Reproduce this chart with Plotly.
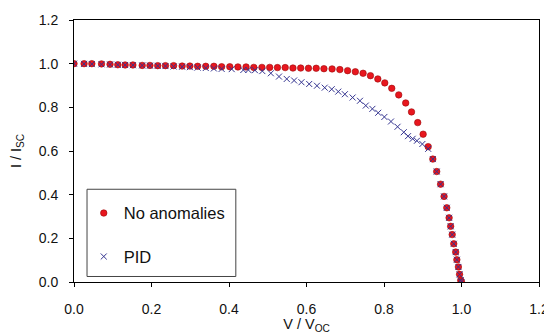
import plotly.graph_objects as go

# No anomalies (red circles)
red_v = [0, 0.026, 0.046, 0.071, 0.093, 0.113, 0.132, 0.152, 0.176, 0.196,
         0.216, 0.236, 0.257, 0.279, 0.299, 0.319, 0.340, 0.361, 0.381, 0.402,
         0.423, 0.444, 0.464, 0.485, 0.505, 0.525, 0.545, 0.565, 0.585, 0.605,
         0.625, 0.645, 0.666, 0.686, 0.706, 0.726, 0.746, 0.765, 0.784, 0.802,
         0.820, 0.838, 0.856, 0.871, 0.887, 0.901, 0.914,
         0.926, 0.936, 0.946, 0.955, 0.962, 0.968, 0.972, 0.976, 0.980, 0.985,
         0.988, 0.992, 0.995, 0.998, 1.0]
red_i = [1.0, 1.0, 1.0, 0.999, 0.997, 0.995, 0.994, 0.994, 0.992, 0.992,
         0.991, 0.991, 0.991, 0.989, 0.989, 0.988, 0.988, 0.988, 0.986, 0.986,
         0.985, 0.985, 0.983, 0.983, 0.983, 0.982, 0.982, 0.980, 0.980, 0.979,
         0.979, 0.977, 0.976, 0.973, 0.968, 0.963, 0.956, 0.945, 0.930, 0.912,
         0.887, 0.857, 0.820, 0.779, 0.730, 0.677, 0.620,
         0.563, 0.506, 0.448, 0.392, 0.340, 0.294, 0.255, 0.217, 0.175, 0.137,
         0.102, 0.069, 0.035, 0.008, 0.0]

# PID (blue crosses)
pid_v = [0, 0.026, 0.046, 0.071, 0.093, 0.113, 0.132, 0.152, 0.176, 0.196,
         0.216, 0.236, 0.257, 0.279, 0.299, 0.319, 0.340, 0.361, 0.381,
         0.407, 0.437, 0.450, 0.467, 0.486, 0.508, 0.529, 0.549, 0.568, 0.587,
         0.607, 0.627, 0.647, 0.665, 0.682, 0.699, 0.719, 0.738, 0.753, 0.770,
         0.785, 0.801, 0.818, 0.835, 0.851, 0.862, 0.874, 0.885, 0.899, 0.914,
         0.926, 0.936, 0.946, 0.955, 0.962, 0.968, 0.972, 0.976, 0.980, 0.985,
         0.988, 0.992, 0.995, 0.998, 1.0]
pid_i = [1.0, 0.999, 0.998, 0.997, 0.996, 0.995, 0.994, 0.993, 0.992, 0.991,
         0.990, 0.989, 0.987, 0.986, 0.984, 0.982, 0.980, 0.978, 0.976,
         0.975, 0.971, 0.971, 0.970, 0.966, 0.956, 0.941, 0.930, 0.923, 0.915,
         0.907, 0.899, 0.890, 0.883, 0.872, 0.860, 0.845, 0.830, 0.808, 0.793,
         0.775, 0.756, 0.735, 0.711, 0.686, 0.668, 0.656, 0.647, 0.632, 0.610,
         0.563, 0.506, 0.448, 0.392, 0.340, 0.294, 0.255, 0.217, 0.175, 0.137,
         0.102, 0.069, 0.035, 0.008, 0.0]

tick_vals = [0, 0.2, 0.4, 0.6, 0.8, 1.0, 1.2]
tick_text = ["0.0", "0.2", "0.4", "0.6", "0.8", "1.0", "1.2"]

FONT = "Liberation Sans, Arial, sans-serif"

fig = go.Figure()
fig.add_trace(go.Scatter(
    x=red_v, y=red_i, mode="markers", name="No anomalies", legendgroup="a",
    marker=dict(symbol="circle", size=6.5, color="#E8161E",
                line=dict(color="#9A0A0A", width=0.6)),
))
fig.add_trace(go.Scatter(
    x=pid_v, y=pid_i, mode="markers", name="PID", legendgroup="b",
    marker=dict(symbol="x-thin", size=6, color="#343490",
                line=dict(color="#343490", width=1)),
))

axis_common = dict(
    range=[0, 1.2], tickvals=tick_vals, ticktext=tick_text, automargin=False,
    showgrid=False, zeroline=False, showline=True, linecolor="black",
    linewidth=1, mirror=True, ticks="outside", ticklen=4, tickcolor="black",
    tickwidth=1, tickfont=dict(family=FONT, size=14, color="#111"),
)

fig.update_layout(
    width=544, height=326,
    margin=dict(l=66, r=13, t=12, b=51.5),
    paper_bgcolor="white", plot_bgcolor="white",
    showlegend=True,
    xaxis=dict(**axis_common, ticklabelstandoff=10,
               title=dict(text="V / V<sub>OC</sub>", standoff=6,
                          font=dict(family=FONT, size=14.5, color="#111"))),
    yaxis=dict(**axis_common, ticklabelstandoff=8,
               title=dict(text="I / I<sub>SC</sub>", standoff=14,
                          font=dict(family=FONT, size=14.5, color="#111"))),
    legend=dict(
        x=0.021, y=0.329, xanchor="left", yanchor="top",
        bgcolor="rgba(0,0,0,0)", borderwidth=0,
        font=dict(family=FONT, size=16.5, color="#111"),
        tracegroupgap=19,
    ),
    shapes=[dict(type="rect", xref="paper", yref="paper",
                 x0=0.028, x1=0.348, y0=0.021, y1=0.354,
                 line=dict(color="#444", width=1), fillcolor="white",
                 layer="below")],
)

fig.write_html("out.html")
